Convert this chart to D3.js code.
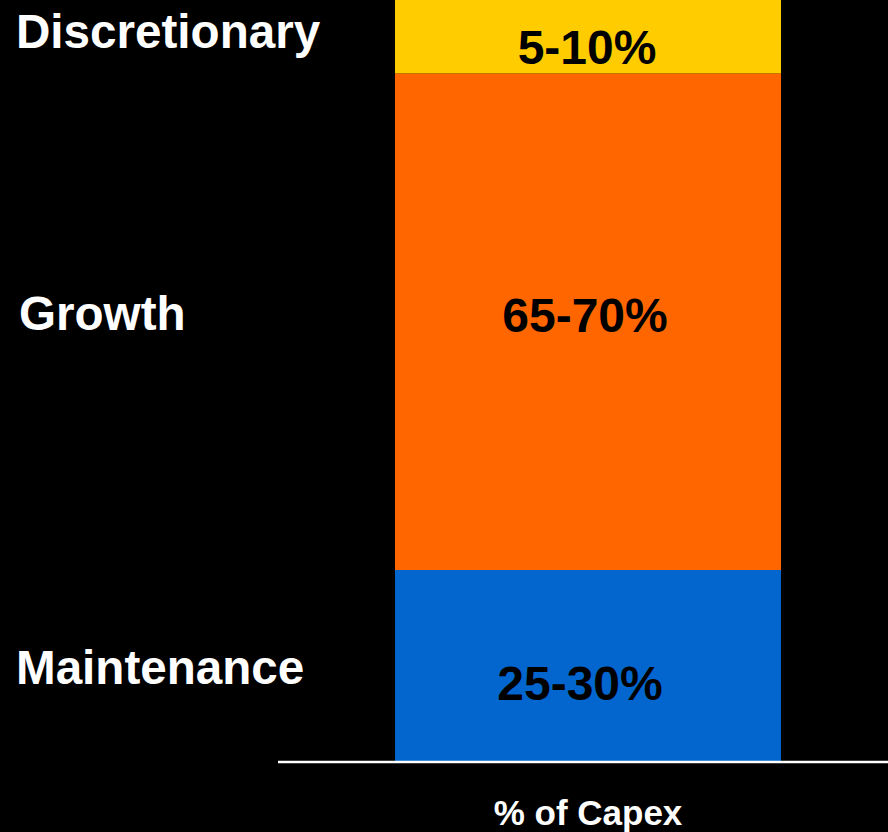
<!DOCTYPE html>
<html>
<head>
<meta charset="utf-8">
<script src="https://cdn.jsdelivr.net/npm/d3@7"></script>
<style>
html,body{margin:0;padding:0;background:#000;}
svg{display:block;}
text{font-family:"Liberation Sans",Arial,sans-serif;font-weight:bold;}
</style>
</head>
<body>
<svg id="chart" width="888" height="832"></svg>
<script>
const categories = ["% of Capex"];
const segments = ["Maintenance", "Growth", "Discretionary"];
const segmentValues = [25, 65, 10];
const segmentLabels = ["25-30%", "65-70%", "5-10%"];
const segmentColors = ["#0366CF", "#FF6600", "#FFCC00"];

const W = 888, H = 832;
const svg = d3.select("#chart");
svg.append("rect").attr("width", W).attr("height", H).attr("fill", "#000");

const row = { cat: categories[0] };
segments.forEach((s, i) => row[s] = segmentValues[i]);
const stacked = d3.stack().keys(segments)([row]);

const x = d3.scaleBand().domain(categories).range([278, 888]).paddingInner(0).paddingOuter(0.19);
const barX0 = 395, barX1 = 781;
const y = d3.scaleLinear().domain([0, 100]).range([761, -3]);

const color = d3.scaleOrdinal().domain(segments).range(segmentColors);

svg.append("g").selectAll("rect")
  .data(stacked)
  .join("rect")
  .attr("x", barX0)
  .attr("width", barX1 - barX0)
  .attr("y", d => y(d[0][1]))
  .attr("height", d => y(d[0][0]) - y(d[0][1]))
  .attr("fill", d => color(d.key));

// value labels
const labelBaselines = { "Maintenance": 700, "Growth": 332, "Discretionary": 64 };
const labelShift = { "Maintenance": -8, "Growth": -3, "Discretionary": -1 };
svg.append("g").selectAll("text")
  .data(stacked)
  .join("text")
  .attr("x", d => (barX0 + barX1) / 2 + labelShift[d.key])
  .attr("y", d => labelBaselines[d.key])
  .attr("text-anchor", "middle")
  .attr("font-size", 48)
  .attr("fill", "#000")
  .text((d, i) => segmentLabels[i]);

// category labels on the left
const catBaselines = { "Maintenance": 684, "Growth": 330, "Discretionary": 48 };
const catX = { "Maintenance": 16, "Growth": 19, "Discretionary": 16 };
svg.append("g").selectAll("text")
  .data(segments)
  .join("text")
  .attr("x", d => catX[d])
  .attr("y", d => catBaselines[d])
  .attr("font-size", 47.6)
  .attr("fill", "#fff")
  .text(d => d);

// x axis
const xAxis = d3.axisBottom(x).tickSize(0).tickPadding(0);
const gx = svg.append("g").attr("transform", "translate(0,762)").call(xAxis);
gx.select(".domain").attr("stroke", "#fff").attr("stroke-width", 2.5).attr("d", "M278,0H888");
gx.selectAll(".tick text")
  .attr("x", 0)
  .attr("y", 63)
  .attr("dy", 0)
  .attr("font-size", 35)
  .attr("font-family", "Liberation Sans, Arial, sans-serif")
  .attr("font-weight", "bold")
  .attr("fill", "#fff");
gx.selectAll(".tick").attr("transform", "translate(588,0)");
</script>
</body>
</html>
